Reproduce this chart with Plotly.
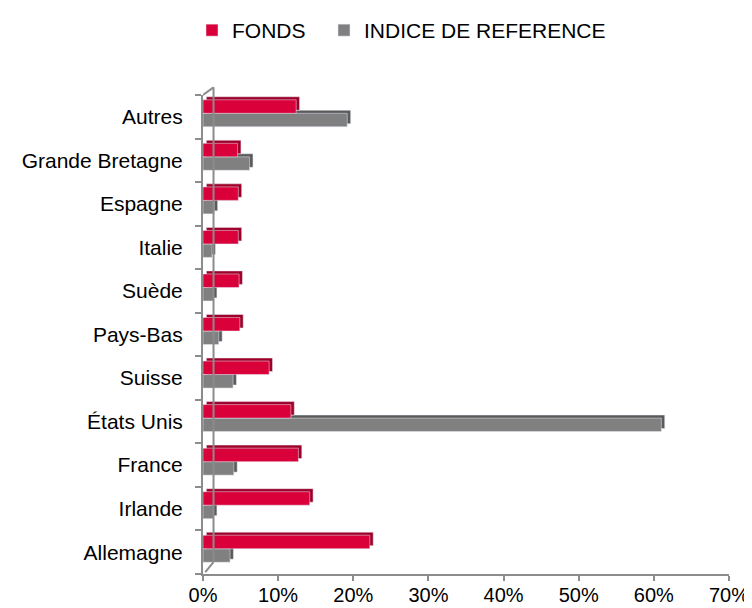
import plotly.graph_objects as go

categories = ["Allemagne", "Irlande", "France", "États Unis", "Suisse", "Pays-Bas",
              "Suède", "Italie", "Espagne", "Grande Bretagne", "Autres"]
fonds = [22.2, 14.2, 12.7, 11.7, 8.8, 4.9, 4.8, 4.7, 4.7, 4.6, 12.4]
indice = [3.6, 1.4, 4.1, 61.0, 4.0, 2.1, 1.4, 1.2, 1.5, 6.2, 19.2]
tick_vals = [0, 10, 20, 30, 40, 50, 60, 70]
tick_text = ["0%", "10%", "20%", "30%", "40%", "50%", "60%", "70%"]

RED, RED_D = "#DA003A", "#9E0029"
GREY, GREY_D = "#808080", "#5A5A5A"
FONT = "Liberation Sans, Arial, sans-serif"

depth_x = 0.45   # 3D depth (in % units)
depth_y = 0.07   # 3D depth (category units)
bw = 0.31

fig = go.Figure()
# shadow (depth) faces
fig.add_trace(go.Bar(y=categories, x=indice, base=depth_x, orientation="h",
                     offset=-0.23 + depth_y, width=bw, marker_color=GREY_D,
                     showlegend=False, hoverinfo="skip"))
fig.add_trace(go.Bar(y=categories, x=fonds, base=depth_x, orientation="h",
                     offset=0.08 + depth_y, width=bw, marker_color=RED_D,
                     showlegend=False, hoverinfo="skip"))
# front faces
fig.add_trace(go.Bar(y=categories, x=indice, orientation="h", name="INDICE DE REFERENCE",
                     offset=-0.23, width=bw, marker_color=GREY, legend="legend2"))
fig.add_trace(go.Bar(y=categories, x=fonds, orientation="h", name="FONDS",
                     offset=0.08, width=bw, marker_color=RED, legend="legend"))

axis_col = "#8C8C8C"
shapes = [
    dict(type="line", xref="x", yref="paper", x0=1.4, x1=1.4, y0=0.025, y1=1.016,
         line=dict(color=axis_col, width=2)),
    dict(type="line", xref="x", yref="paper", x0=0.3, x1=1.4, y0=0.004, y1=0.025,
         line=dict(color=axis_col, width=2)),
    dict(type="line", xref="x", yref="paper", x0=0.0, x1=1.4, y0=1.0, y1=1.016,
         line=dict(color=axis_col, width=2)),
]

# page has an 8px body margin; figure sized to fill the rest of the 752x608 window
W, H = 744, 600
leg_common = dict(orientation="h", xanchor="left", xref="container",
                  y=1 - 2 / H, yanchor="top", yref="container",
                  font=dict(family=FONT, size=21), itemwidth=30,
                  bgcolor="rgba(0,0,0,0)")
fig.update_layout(
    width=W, height=H,
    margin=dict(l=194.5, r=22.7, t=86.5, b=34, autoexpand=False),
    paper_bgcolor="white", plot_bgcolor="white",
    barmode="overlay",
    font=dict(family=FONT, size=21, color="#000000"),
    shapes=shapes,
    legend=dict(x=184 / W, **leg_common),
    legend2=dict(x=316 / W, **leg_common),
    xaxis=dict(range=[0, 70], tickvals=tick_vals, ticktext=tick_text,
               automargin=False,
               showgrid=False, zeroline=False, showline=True, linecolor=axis_col,
               linewidth=2, ticks="outside", ticklen=5, tickcolor=axis_col,
               tickwidth=2, ticklabelstandoff=-3,
               tickfont=dict(family=FONT, size=20)),
    yaxis=dict(categoryorder="array", categoryarray=categories,
               automargin=False,
               range=[-0.5, 10.5], showgrid=False, zeroline=False, showline=True,
               linecolor=axis_col, linewidth=2, ticks="outside", ticklen=6,
               tickcolor=axis_col, tickwidth=2, tickson="boundaries",
               ticklabelstandoff=14, tickfont=dict(family=FONT, size=21)),
)

fig.write_html("out.html")
